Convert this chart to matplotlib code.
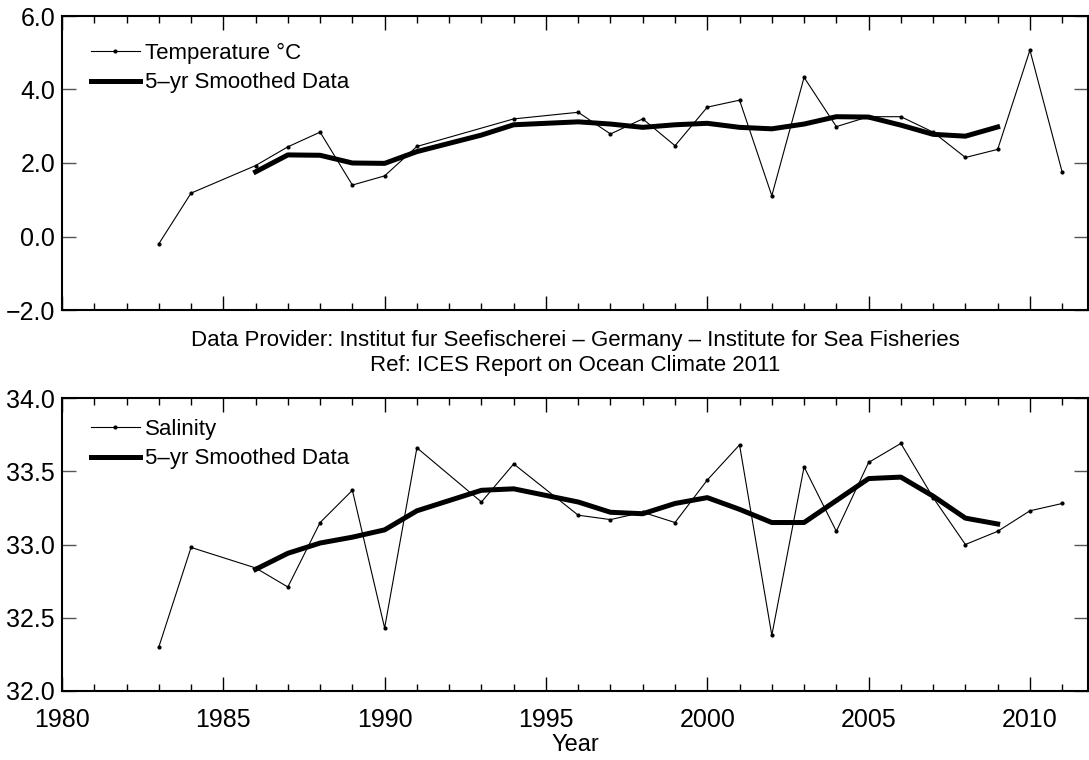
import matplotlib
matplotlib.use("Agg")
import matplotlib.pyplot as plt
from matplotlib.ticker import MultipleLocator, FuncFormatter

plt.rcParams['font.family'] = ['Liberation Sans', 'DejaVu Sans']

# temperature (annual values, gaps where no data)
temp_years = [1983, 1984, 1986, 1987, 1988, 1989, 1990, 1991, 1994, 1996, 1997, 1998,
              1999, 2000, 2001, 2002, 2003, 2004, 2005, 2006, 2007, 2008, 2009, 2010, 2011]
temp_vals = [-0.20, 1.18, 1.93, 2.44, 2.84, 1.40, 1.65, 2.45, 3.20, 3.38, 2.79, 3.20,
             2.47, 3.52, 3.71, 1.11, 4.33, 2.99, 3.26, 3.26, 2.84, 2.15, 2.37, 5.07, 1.75]

temp_smooth_years = [1986, 1987, 1988, 1989, 1990, 1991, 1993, 1994, 1996, 1997, 1998,
                     1999, 2000, 2001, 2002, 2003, 2004, 2005, 2006, 2007, 2008, 2009]
temp_smooth = [1.76, 2.22, 2.21, 2.00, 1.99, 2.31, 2.76, 3.04, 3.12, 3.06, 2.97,
               3.04, 3.08, 2.97, 2.93, 3.06, 3.26, 3.25, 3.03, 2.78, 2.73, 2.98]

# salinity
sal_years = [1983, 1984, 1986, 1987, 1988, 1989, 1990, 1991, 1993, 1994, 1996, 1997, 1998,
             1999, 2000, 2001, 2002, 2003, 2004, 2005, 2006, 2007, 2008, 2009, 2010, 2011]
sal_vals = [32.30, 32.98, 32.84, 32.71, 33.15, 33.37, 32.43, 33.66, 33.29, 33.55, 33.20, 33.17, 33.22,
            33.15, 33.44, 33.68, 32.38, 33.53, 33.09, 33.56, 33.69, 33.32, 33.00, 33.09, 33.23, 33.28]

sal_smooth_years = [1986, 1987, 1988, 1989, 1990, 1991, 1993, 1994, 1996, 1997, 1998,
                    1999, 2000, 2001, 2002, 2003, 2004, 2005, 2006, 2007, 2008, 2009]
sal_smooth = [32.83, 32.94, 33.01, 33.05, 33.10, 33.23, 33.37, 33.38, 33.29, 33.22, 33.21,
              33.28, 33.32, 33.24, 33.15, 33.15, 33.30, 33.45, 33.46, 33.33, 33.18, 33.14]

fig = plt.figure(figsize=(10.89, 7.6), dpi=100)
W, H = 1089, 760
left, right = 62, 1088
ax1 = fig.add_axes([left / W, 1 - 310 / H, (right - left) / W, 294 / H])
ax2 = fig.add_axes([left / W, 1 - 691 / H, (right - left) / W, 293 / H])

fmt = FuncFormatter(lambda v, p: f'{v:.1f}'.replace('-', '\u2212'))


def style_axis(ax, ylim, ystep):
    ax.set_xlim(1980, 2011.8)
    ax.set_ylim(*ylim)
    ax.xaxis.set_major_locator(MultipleLocator(5))
    ax.xaxis.set_minor_locator(MultipleLocator(1))
    ax.yaxis.set_major_locator(MultipleLocator(ystep))
    ax.yaxis.set_major_formatter(fmt)
    ax.tick_params(axis='both', which='major', direction='in', length=10, width=1,
                   top=True, right=True, labelsize=18)
    ax.tick_params(axis='x', which='major', pad=12)
    ax.tick_params(axis='x', which='minor', direction='in', length=5, width=1,
                   top=True, bottom=True)
    ax.tick_params(axis='y', which='major', length=10, color='#555555', pad=5)
    for s in ax.spines.values():
        s.set_linewidth(1.5)


ax1.plot(temp_years, temp_vals, '-o', color='black', lw=0.8, ms=2, label='Temperature °C')
ax1.plot(temp_smooth_years, temp_smooth, '-', color='black', lw=3.6, label='5\u2013yr Smoothed Data')
style_axis(ax1, (-2.0, 6.0), 2.0)
ax1.tick_params(axis='x', labelbottom=False)

ax2.plot(sal_years, sal_vals, '-o', color='black', lw=0.8, ms=2, label='Salinity')
ax2.plot(sal_smooth_years, sal_smooth, '-', color='black', lw=3.6, label='5\u2013yr Smoothed Data')
style_axis(ax2, (32.0, 34.0), 0.5)

for ax, top in ((ax1, 0.91), (ax2, 0.93)):
    ax.legend(loc='upper left', bbox_to_anchor=(0.028, top), frameon=False, fontsize=16,
              handlelength=2.2, handletextpad=0.25, labelspacing=0.4, borderpad=0,
              borderaxespad=0)

fig.text(575 / W, 1 - 340 / H, 'Data Provider: Institut fur Seefischerei \u2013 Germany \u2013 Institute for Sea Fisheries',
         ha='center', va='center', fontsize=16)
fig.text(575 / W, 1 - 365 / H, 'Ref: ICES Report on Ocean Climate 2011',
         ha='center', va='center', fontsize=16)
fig.text(575 / W, 1 - 745 / H, 'Year', ha='center', va='center', fontsize=17)

plt.savefig('out.png', dpi=100)
